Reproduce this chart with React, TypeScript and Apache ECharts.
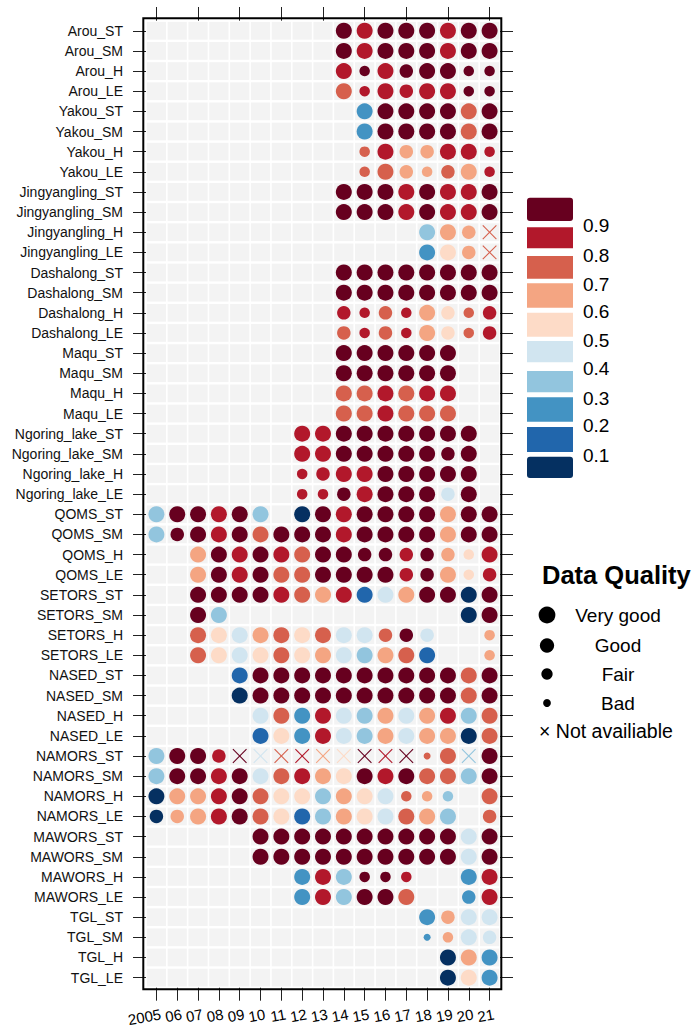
import React, { useEffect, useRef } from "react";
import * as echarts from "echarts";

const stations = [
  "Arou_ST", "Arou_SM", "Arou_H", "Arou_LE",
  "Yakou_ST", "Yakou_SM", "Yakou_H", "Yakou_LE",
  "Jingyangling_ST", "Jingyangling_SM", "Jingyangling_H", "Jingyangling_LE",
  "Dashalong_ST", "Dashalong_SM", "Dashalong_H", "Dashalong_LE",
  "Maqu_ST", "Maqu_SM", "Maqu_H", "Maqu_LE",
  "Ngoring_lake_ST", "Ngoring_lake_SM", "Ngoring_lake_H", "Ngoring_lake_LE",
  "QOMS_ST", "QOMS_SM", "QOMS_H", "QOMS_LE",
  "SETORS_ST", "SETORS_SM", "SETORS_H", "SETORS_LE",
  "NASED_ST", "NASED_SM", "NASED_H", "NASED_LE",
  "NAMORS_ST", "NAMORS_SM", "NAMORS_H", "NAMORS_LE",
  "MAWORS_ST", "MAWORS_SM", "MAWORS_H", "MAWORS_LE",
  "TGL_ST", "TGL_SM", "TGL_H", "TGL_LE",
];

const years = ["2005", "06", "07", "08", "09", "10", "11", "12", "13", "14", "15", "16", "17", "18", "19", "20", "21"];

const _ = null;

// estimated value per station (row) and year (column)
const values: (number | null)[][] = [
  [_, _, _, _, _, _, _, _, _, .95, .85, .95, .95, .95, .85, .95, .95],
  [_, _, _, _, _, _, _, _, _, .95, .85, .95, .95, .95, .85, .95, .95],
  [_, _, _, _, _, _, _, _, _, .85, .95, .85, .95, .95, .95, .95, .95],
  [_, _, _, _, _, _, _, _, _, .75, .85, .85, .85, .85, .85, .95, .95],
  [_, _, _, _, _, _, _, _, _, _, .25, .95, .95, .95, .95, .75, .95],
  [_, _, _, _, _, _, _, _, _, _, .25, .95, .95, .95, .95, .75, .95],
  [_, _, _, _, _, _, _, _, _, _, .75, .85, .65, .65, .85, .85, .85],
  [_, _, _, _, _, _, _, _, _, _, .75, .75, .65, .65, .75, .65, .85],
  [_, _, _, _, _, _, _, _, _, .95, .95, .95, .85, .95, .85, .85, .95],
  [_, _, _, _, _, _, _, _, _, .95, .95, .95, .85, .95, .85, .85, .95],
  [_, _, _, _, _, _, _, _, _, _, _, _, _, .35, .65, .65, .75],
  [_, _, _, _, _, _, _, _, _, _, _, _, _, .25, .55, .65, .75],
  [_, _, _, _, _, _, _, _, _, .95, .95, .95, .95, .95, .95, .95, .95],
  [_, _, _, _, _, _, _, _, _, .95, .95, .95, .95, .95, .95, .95, .95],
  [_, _, _, _, _, _, _, _, _, .85, .85, .75, .85, .65, .55, .75, .85],
  [_, _, _, _, _, _, _, _, _, .75, .85, .75, .85, .65, .55, .75, .85],
  [_, _, _, _, _, _, _, _, _, .95, .95, .95, .95, .95, .95, _, _],
  [_, _, _, _, _, _, _, _, _, .95, .95, .95, .95, .95, .95, _, _],
  [_, _, _, _, _, _, _, _, _, .75, .75, .85, .75, .85, .85, _, _],
  [_, _, _, _, _, _, _, _, _, .75, .75, .85, .75, .75, .75, _, _],
  [_, _, _, _, _, _, _, .85, .85, .95, .95, .95, .95, .95, .95, .95, _],
  [_, _, _, _, _, _, _, .85, .85, .95, .95, .95, .95, .95, .95, .95, _],
  [_, _, _, _, _, _, _, .85, .85, .85, .85, .95, .95, .95, .95, .95, _],
  [_, _, _, _, _, _, _, .85, .85, .95, .85, .95, .95, .95, .45, .95, _],
  [.35, .95, .95, .85, .95, .35, _, .05, .95, .85, .95, .95, .95, .95, .65, .95, .95],
  [.35, .95, .95, .85, .95, .75, .95, .95, .95, .85, .95, .95, .95, .95, .65, .95, .95],
  [_, _, .65, .95, .85, .95, .85, .75, .95, .95, .95, .95, .85, .95, .65, .55, .85],
  [_, _, .65, .95, .85, .95, .75, .75, .95, .95, .95, .95, .85, .95, .65, .55, .85],
  [_, _, .95, .95, .95, .95, .85, .75, .65, .85, .15, .45, .65, .95, .95, .05, .95],
  [_, _, .95, .35, _, _, _, _, _, _, _, _, _, _, _, .05, .95],
  [_, _, .75, .55, .45, .65, .75, .55, .75, .45, .45, .75, .95, .45, _, _, .65],
  [_, _, .75, .55, .45, .55, .75, .55, .65, .45, .35, .65, .75, .15, _, _, .65],
  [_, _, _, _, .15, .95, .95, .95, .95, .95, .95, .95, .95, .95, .95, .75, .95],
  [_, _, _, _, .05, .95, .95, .95, .95, .95, .95, .95, .95, .95, .95, .75, .95],
  [_, _, _, _, _, .45, .75, .25, .85, .45, .35, .65, .45, .65, .85, .35, .75],
  [_, _, _, _, _, .15, .55, .25, .85, .45, .35, .65, .45, .65, .65, .05, .75],
  [.35, .95, .95, .85, .95, .45, .75, .85, .65, .55, .95, .85, .95, .75, .75, .35, .95],
  [.35, .95, .95, .85, .95, .45, .75, .85, .65, .55, .95, .85, .95, .75, .75, .35, .95],
  [.05, .65, .65, .85, .95, .75, .55, .55, .35, .65, .55, .45, .75, .65, .35, _, .75],
  [.05, .65, .65, .85, .95, .75, .55, .15, .35, .65, .55, .45, .75, .65, .35, _, .75],
  [_, _, _, _, _, .95, .95, .95, .95, .95, .95, .95, .95, .95, .95, .45, .95],
  [_, _, _, _, _, .95, .95, .95, .95, .95, .95, .95, .95, .95, .95, .45, .95],
  [_, _, _, _, _, _, _, .25, .85, .35, .95, .95, .85, _, _, .25, .85],
  [_, _, _, _, _, _, _, .25, .85, .35, .95, .95, .75, _, _, .25, .85],
  [_, _, _, _, _, _, _, _, _, _, _, _, _, .25, .65, .45, .45],
  [_, _, _, _, _, _, _, _, _, _, _, _, _, .25, .65, .45, .45],
  [_, _, _, _, _, _, _, _, _, _, _, _, _, _, .05, .65, .25],
  [_, _, _, _, _, _, _, _, _, _, _, _, _, _, .05, .55, .25],
];

// data quality: 4 very good, 3 good, 2 fair, 1 bad, 0 not available
const quality: (number | null)[][] = [
  [_, _, _, _, _, _, _, _, _, 4, 4, 4, 4, 4, 4, 4, 4],
  [_, _, _, _, _, _, _, _, _, 4, 4, 4, 4, 4, 4, 4, 4],
  [_, _, _, _, _, _, _, _, _, 4, 2, 4, 3, 4, 4, 2, 2],
  [_, _, _, _, _, _, _, _, _, 4, 2, 4, 3, 4, 4, 2, 2],
  [_, _, _, _, _, _, _, _, _, _, 4, 4, 4, 4, 4, 4, 4],
  [_, _, _, _, _, _, _, _, _, _, 4, 4, 4, 4, 4, 4, 4],
  [_, _, _, _, _, _, _, _, _, _, 2, 4, 3, 3, 4, 4, 2],
  [_, _, _, _, _, _, _, _, _, _, 2, 4, 3, 2, 3, 4, 2],
  [_, _, _, _, _, _, _, _, _, 4, 4, 4, 4, 4, 4, 4, 4],
  [_, _, _, _, _, _, _, _, _, 4, 4, 4, 4, 4, 4, 4, 4],
  [_, _, _, _, _, _, _, _, _, _, _, _, _, 4, 4, 3, 0],
  [_, _, _, _, _, _, _, _, _, _, _, _, _, 4, 4, 3, 0],
  [_, _, _, _, _, _, _, _, _, 4, 4, 4, 4, 4, 4, 4, 4],
  [_, _, _, _, _, _, _, _, _, 4, 4, 4, 4, 4, 4, 4, 4],
  [_, _, _, _, _, _, _, _, _, 3, 2, 3, 2, 4, 3, 2, 3],
  [_, _, _, _, _, _, _, _, _, 3, 2, 3, 2, 4, 3, 2, 3],
  [_, _, _, _, _, _, _, _, _, 4, 4, 4, 4, 4, 4, _, _],
  [_, _, _, _, _, _, _, _, _, 4, 4, 4, 4, 4, 4, _, _],
  [_, _, _, _, _, _, _, _, _, 4, 4, 4, 4, 4, 4, _, _],
  [_, _, _, _, _, _, _, _, _, 4, 4, 4, 4, 4, 4, _, _],
  [_, _, _, _, _, _, _, 4, 4, 4, 4, 4, 4, 4, 4, 4, _],
  [_, _, _, _, _, _, _, 4, 4, 4, 4, 4, 4, 4, 3, 4, _],
  [_, _, _, _, _, _, _, 2, 3, 4, 4, 4, 4, 4, 4, 4, _],
  [_, _, _, _, _, _, _, 2, 2, 3, 4, 4, 4, 4, 3, 4, _],
  [4, 4, 4, 4, 4, 4, _, 4, 4, 4, 4, 4, 4, 4, 4, 4, 4],
  [4, 3, 4, 4, 4, 4, 4, 4, 4, 4, 4, 4, 4, 4, 4, 4, 4],
  [_, _, 4, 4, 4, 4, 4, 4, 4, 4, 3, 3, 3, 3, 3, 2, 4],
  [_, _, 4, 4, 4, 4, 4, 4, 4, 4, 4, 4, 3, 3, 4, 2, 3],
  [_, _, 4, 4, 4, 4, 4, 4, 4, 4, 4, 4, 4, 4, 4, 4, 4],
  [_, _, 4, 4, _, _, _, _, _, _, _, _, _, _, _, 4, 4],
  [_, _, 4, 4, 4, 4, 4, 4, 4, 4, 4, 3, 3, 3, _, _, 2],
  [_, _, 4, 4, 4, 4, 4, 4, 4, 4, 4, 4, 4, 4, _, _, 2],
  [_, _, _, _, 4, 4, 4, 4, 4, 4, 4, 4, 4, 4, 4, 4, 4],
  [_, _, _, _, 4, 4, 4, 4, 4, 4, 4, 4, 4, 4, 4, 4, 4],
  [_, _, _, _, _, 4, 4, 4, 4, 4, 4, 4, 4, 4, 4, 4, 4],
  [_, _, _, _, _, 4, 4, 4, 4, 4, 4, 4, 4, 4, 4, 4, 4],
  [4, 4, 4, 3, 0, 0, 0, 0, 0, 0, 0, 0, 0, 1, 4, 0, 4],
  [4, 4, 4, 4, 4, 4, 4, 4, 4, 4, 4, 4, 4, 4, 4, 4, 4],
  [4, 4, 4, 4, 4, 4, 4, 4, 4, 4, 4, 4, 2, 2, 2, _, 4],
  [3, 3, 4, 4, 4, 4, 4, 4, 4, 4, 4, 4, 4, 4, 4, _, 3],
  [_, _, _, _, _, 4, 4, 4, 4, 4, 4, 4, 4, 4, 4, 4, 4],
  [_, _, _, _, _, 4, 4, 4, 4, 4, 4, 4, 4, 4, 4, 4, 4],
  [_, _, _, _, _, _, _, 4, 4, 4, 2, 2, 2, _, _, 4, 4],
  [_, _, _, _, _, _, _, 4, 4, 4, 4, 4, 4, _, _, 3, 4],
  [_, _, _, _, _, _, _, _, _, _, _, _, _, 4, 3, 4, 4],
  [_, _, _, _, _, _, _, _, _, _, _, _, _, 1, 2, 4, 3],
  [_, _, _, _, _, _, _, _, _, _, _, _, _, _, 4, 4, 4],
  [_, _, _, _, _, _, _, _, _, _, _, _, _, _, 4, 4, 4],
];

const colorBreaks = [0.9, 0.8, 0.7, 0.6, 0.5, 0.4, 0.3, 0.2, 0.1];
const breakLabels = ["0.9", "0.8", "0.7", "0.6", "0.5", "0.4", "0.3", "0.2", "0.1"];
const palette = ["#67001f", "#b2182b", "#d6604d", "#f4a582", "#fddbc7", "#d1e5f0", "#92c5de", "#4393c3", "#2166ac", "#053061"];
const qualityLabels = ["Very good", "Good", "Fair", "Bad"];
const notAvailableLabel = "\u00d7 Not availiable";
const legendTitle = "Data Quality";

// style: diameter per quality level (index = quality code)
const qualityDiameter = [0, 7, 10.5, 13.5, 16];

const FONT = "'Liberation Sans', Arial, Helvetica, sans-serif";

function colorFor(v: number): string {
  for (let i = 0; i < colorBreaks.length; i++) {
    if (v >= colorBreaks[i]) return palette[i];
  }
  return palette[palette.length - 1];
}

export default function App() {
  const ref = useRef<HTMLDivElement>(null);

  useEffect(() => {
    if (!ref.current) return;
    const chart = echarts.init(ref.current, undefined, { renderer: "svg" });

    const bgCells: number[][] = [];
    const points: number[][] = [];
    for (let r = 0; r < stations.length; r++) {
      for (let c = 0; c < years.length; c++) {
        bgCells.push([c, r]);
        const v = values[r][c];
        const q = quality[r][c];
        if (v !== null && q !== null) points.push([c, r, v, q]);
      }
    }

    const GL = 146, GT = 20.7, GW = 354, GH = 967;

    // colour bar boxes (legend layout)
    const boxes = [
      [197.7, 221], [227.3, 248.3], [256, 278.7], [283.3, 307.7], [312.7, 336.7],
      [341, 362.3], [371, 392.3], [397.3, 421.7], [427, 452], [456.7, 478],
    ];
    const labelY = [225.3, 255.3, 284.7, 311.3, 340.3, 368.7, 398.7, 425.3, 455.3];
    const graphics: any[] = [];
    boxes.forEach((b, i) => {
      graphics.push({
        type: "rect",
        shape: { x: 527, y: b[0], width: 46, height: b[1] - b[0], r: i === 0 || i === boxes.length - 1 ? 3 : 0 },
        style: { fill: palette[i] },
      });
    });
    breakLabels.forEach((t, i) => {
      graphics.push({
        type: "text",
        x: 583,
        y: labelY[i],
        style: { text: t, fill: "#000", font: `19px ${FONT}`, textAlign: "left", textVerticalAlign: "middle" },
      });
    });
    graphics.push({
      type: "text",
      x: 542,
      y: 575,
      style: { text: legendTitle, fill: "#000", font: `bold 25.5px ${FONT}`, textAlign: "left", textVerticalAlign: "middle" },
    });
    const qY = [615, 645.5, 674, 703];
    const qD = [qualityDiameter[4], qualityDiameter[3], qualityDiameter[2], qualityDiameter[1]];
    qualityLabels.forEach((t, i) => {
      graphics.push({
        type: "circle",
        shape: { cx: 547, cy: qY[i], r: qD[i] / 2 + 0.4 },
        style: { fill: "#000" },
      });
      graphics.push({
        type: "text",
        x: 618,
        y: qY[i],
        style: { text: t, fill: "#000", font: `19px ${FONT}`, textAlign: "center", textVerticalAlign: "middle" },
      });
    });
    graphics.push({
      type: "text",
      x: 539,
      y: 731,
      style: { text: notAvailableLabel, fill: "#000", font: `19.5px ${FONT}`, textAlign: "left", textVerticalAlign: "middle" },
    });
    // plot frame
    graphics.push({
      type: "rect",
      z: 100,
      shape: { x: 143.3, y: 18.3, width: 358, height: 971 },
      style: { fill: "none", stroke: "#000", lineWidth: 2 },
    });

    const tickStyle = { show: true, alignWithLabel: true, length: 13, lineStyle: { color: "#222", width: 1 } };

    chart.setOption({
      animation: false,
      backgroundColor: "#fff",
      grid: { left: GL, top: GT, width: GW, height: GH, containLabel: false },
      xAxis: [
        {
          type: "category",
          data: years,
          position: "bottom",
          axisLine: { show: false },
          axisTick: tickStyle,
          splitLine: { show: false },
          axisLabel: {
            show: true,
            interval: 0,
            rotate: 10,
            align: "right",
            verticalAlign: "middle",
            padding: [0, -4.5, 0, 0],
            margin: 27,
            color: "#000",
            fontSize: 15,
            fontFamily: FONT,
          },
        },
        {
          type: "category",
          data: years,
          position: "top",
          axisLine: { show: false },
          axisTick: { ...tickStyle, length: 13.7 },
          splitLine: { show: false },
          axisLabel: { show: false },
        },
      ],
      yAxis: [
        {
          type: "category",
          data: stations,
          inverse: true,
          position: "left",
          axisLine: { show: false },
          axisTick: tickStyle,
          splitLine: { show: false },
          axisLabel: { show: true, interval: 0, margin: 23, color: "#111", fontSize: 14, fontFamily: FONT },
        },
        {
          type: "category",
          data: stations,
          inverse: true,
          position: "right",
          axisLine: { show: false },
          axisTick: tickStyle,
          splitLine: { show: false },
          axisLabel: { show: false },
        },
      ],
      series: [
        {
          type: "custom",
          xAxisIndex: 0,
          yAxisIndex: 0,
          silent: true,
          encode: { x: 0, y: 1 },
          data: bgCells,
          renderItem: (_p: any, api: any) => {
            const c = api.coord([api.value(0), api.value(1)]);
            const s = api.size([1, 1]);
            return {
              type: "rect",
              shape: { x: c[0] - s[0] / 2 + 0.8, y: c[1] - s[1] / 2 + 1.2, width: s[0] - 1.6, height: s[1] - 2.4 },
              style: { fill: "#f3f3f3" },
            };
          },
        },
        {
          type: "custom",
          xAxisIndex: 0,
          yAxisIndex: 0,
          silent: true,
          encode: { x: 0, y: 1 },
          data: points,
          renderItem: (_p: any, api: any) => {
            const v = api.value(2);
            const q = api.value(3);
            const c = api.coord([api.value(0), api.value(1)]);
            const col = colorFor(v);
            if (q === 0) {
              const h = 6.8;
              return {
                type: "group",
                children: [
                  { type: "line", shape: { x1: c[0] - h, y1: c[1] - h, x2: c[0] + h, y2: c[1] + h }, style: { stroke: col, lineWidth: 1.1 } },
                  { type: "line", shape: { x1: c[0] - h, y1: c[1] + h, x2: c[0] + h, y2: c[1] - h }, style: { stroke: col, lineWidth: 1.1 } },
                ],
              };
            }
            return { type: "circle", shape: { cx: c[0], cy: c[1], r: qualityDiameter[q] / 2 }, style: { fill: col } };
          },
        },
      ],
      graphic: graphics,
    });

    return () => chart.dispose();
  }, []);

  return <div ref={ref} style={{ position: "fixed", left: 0, top: 0, width: 696, height: 1030 }} />;
}
